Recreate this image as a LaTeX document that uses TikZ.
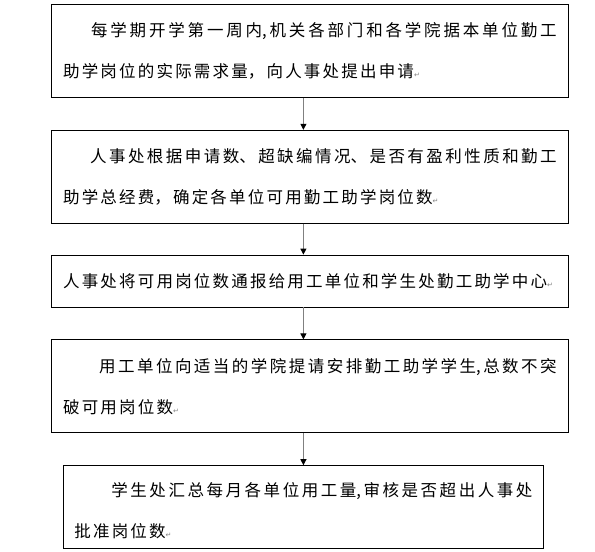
\documentclass[tikz,border=0pt]{standalone}
\usepackage{fontspec}
\newfontfamily\cjk{Noto Sans CJK SC}
\newfontfamily\symfont{DejaVu Sans}
\usetikzlibrary{positioning,arrows.meta}
\XeTeXlinebreaklocale "zh"
\XeTeXlinebreakskip=2.2bp plus 2bp minus 0.3bp
\newcommand\parmark{{\symfont\fontsize{7bp}{7bp}\selectfont\color{gray}↵}}
\tikzset{
  stepbox/.style={draw, line width=0.8bp, inner xsep=11.7bp, inner ysep=0pt,
    text width=493.6bp, minimum height=93bp, align=justify,
    font=\cjk\fontsize{16.5bp}{41bp}\selectfont},
  flow/.style={draw=gray, line width=1bp, -{Triangle[width=6bp,length=6bp,black]}}
}

\begin{document}
\begin{tikzpicture}[x=1bp,y=-1bp]
                \useasboundingbox (0,0) rectangle (595,552);
                \node[stepbox, anchor=north west] (s1) at (51,4)
                  {\hspace*{28bp}每学期开学第一周内,机关各部门和各学院据本单位勤工\linebreak 助学岗位的实际需求量，向人事处提出申请\parmark};
                \node[stepbox, below=32bp of s1] (s2)
                  {\hspace*{27bp}人事处根据申请数、超缺编情况、是否有盈利性质和勤工\linebreak 助学总经费，确定各单位可用勤工助学岗位数\parmark};
                \node[stepbox, minimum height=52bp, below=31bp of s2] (s3)
                  {人事处将可用岗位数通报给用工单位和学生处勤工助学中心\parmark};
                \node[stepbox, below=32bp of s3] (s4)
                  {\hspace*{36bp}用工单位向适当的学院提请安排勤工助学学生,总数不突\linebreak 破可用岗位数\parmark};
                \node[stepbox, minimum height=83bp, inner xsep=11bp, text width=458bp,
                  below=32bp of s4, xshift=-6.5bp] (s5)
                  {\rule{0pt}{21bp}\hspace*{37bp}学生处汇总每月各单位用工量,审核是否超出人事处\linebreak 批准岗位数\parmark};
                \draw[flow] (s1.south -| s5.north) -- (s2.north -| s5.north);
                \draw[flow] (s2.south -| s5.north) -- (s3.north -| s5.north);
                \draw[flow] (s3.south -| s5.north) -- (s4.north -| s5.north);
                \draw[flow] (s4.south -| s5.north) -- (s5.north);
\end{tikzpicture}
\end{document}
